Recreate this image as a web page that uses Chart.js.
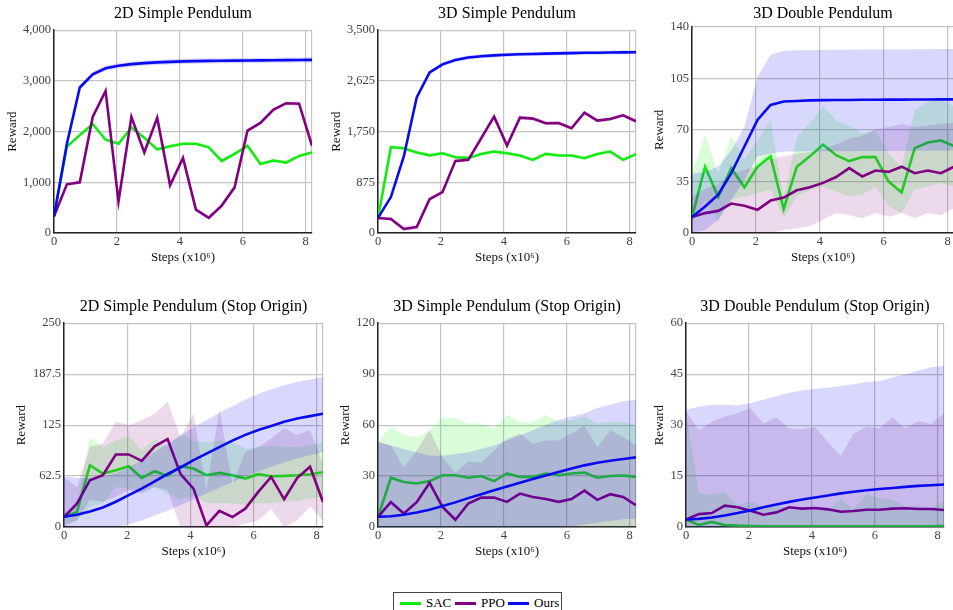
<!DOCTYPE html>
<html><head><meta charset="utf-8">
<script src="https://cdn.jsdelivr.net/npm/chart.js@4"></script>
<style>
html,body{margin:0;padding:0;background:#fff;overflow:hidden;width:953px;height:610px;position:relative;}
canvas.c{position:absolute;}
#legend{position:absolute;left:393px;top:592px;width:169px;height:22px;border:1px solid #444;box-sizing:border-box;background:#fff;font:13px 'Liberation Serif','Times New Roman',serif;color:#000;}
#legend .ln{position:absolute;top:9px;height:3px;width:21px;}
#legend .tx{position:absolute;top:2px;line-height:16px;}
</style>
</head><body>
<div id="legend">
  <span class="ln" style="left:6px;background:rgb(20,235,20)"></span><span class="tx" style="left:32px">SAC</span>
  <span class="ln" style="left:61px;background:#800080"></span><span class="tx" style="left:87px">PPO</span>
  <span class="ln" style="left:114px;background:#0a0af0"></span><span class="tx" style="left:140px">Ours</span>
</div>
<script>
// ---- shared x data ----
const steps = [0,0.41,0.82,1.23,1.64,2.05,2.46,2.87,3.28,3.69,4.1,4.51,4.92,5.33,5.74,6.15,6.56,6.97,7.38,7.79,8.2];
const xTickValues = [0,2,4,6,8];
const xMax = 8.2;
const seriesNames = ['SAC','PPO','Ours'];

// ---- 2D Simple Pendulum ----
const sacA = [330,1705,1930,2150,1840,1760,2080,1880,1650,1710,1760,1760,1690,1420,1560,1720,1360,1430,1390,1520,1590];
const sacALo = [300,1670,1895,2115,1805,1725,2045,1845,1615,1675,1725,1725,1655,1385,1525,1685,1325,1395,1355,1485,1555];
const sacAHi = [360,1740,1965,2185,1875,1795,2115,1915,1685,1745,1795,1795,1725,1455,1595,1755,1395,1465,1425,1555,1625];
const ppoA = [330,960,1000,2290,2800,620,2290,1590,2270,940,1480,460,300,540,900,2020,2170,2430,2560,2550,1720];
const ppoALo = [300,925,965,2250,2760,585,2250,1555,2230,905,1445,425,265,505,865,1985,2135,2395,2520,2510,1685];
const ppoAHi = [360,995,1035,2330,2840,655,2330,1625,2310,975,1515,495,335,575,935,2055,2205,2465,2600,2590,1755];
const oursA = [330,1760,2870,3130,3250,3300,3330,3350,3365,3375,3385,3390,3395,3398,3400,3402,3405,3407,3410,3412,3415];
const oursALo = [290,1710,2820,3080,3200,3250,3280,3300,3315,3325,3335,3340,3345,3348,3350,3352,3355,3357,3360,3362,3365];
const oursAHi = [370,1810,2920,3180,3300,3350,3380,3400,3415,3425,3435,3440,3445,3448,3450,3452,3455,3457,3460,3462,3465];
const yTicksA = [0,1000,2000,3000,4000];

// ---- 3D Simple Pendulum ----
const sacB = [260,1480,1463,1390,1340,1377,1308,1296,1365,1405,1377,1337,1262,1365,1337,1337,1291,1365,1405,1262,1360];
const sacBLo = [230,1450,1433,1360,1310,1347,1278,1266,1335,1375,1347,1307,1232,1335,1307,1307,1261,1335,1375,1232,1330];
const sacBHi = [290,1510,1493,1420,1370,1407,1338,1326,1395,1435,1407,1367,1292,1395,1367,1367,1321,1395,1435,1292,1390];
const ppoB = [260,241,69,103,585,706,1245,1262,1635,2008,1509,1991,1974,1893,1899,1807,2077,1939,1968,2031,1928];
const ppoBLo = [230,205,20,60,550,671,1210,1227,1600,1973,1474,1956,1939,1858,1864,1772,2042,1904,1933,1996,1893];
const ppoBHi = [290,277,118,146,620,741,1280,1297,1670,2043,1544,2026,2009,1928,1934,1842,2112,1974,2003,2066,1963];
const oursB = [260,620,1320,2340,2770,2910,2985,3030,3050,3065,3075,3085,3090,3095,3100,3105,3110,3112,3115,3118,3120];
const oursBLo = [230,585,1285,2305,2735,2875,2950,2995,3015,3030,3040,3050,3055,3060,3065,3070,3075,3077,3080,3083,3085];
const oursBHi = [290,655,1355,2375,2805,2945,3020,3065,3085,3100,3110,3120,3125,3130,3135,3140,3145,3147,3150,3153,3155];
const yTicksB = [0,875,1750,2625,3500];

// ---- 3D Double Pendulum ----
const sacC = [10.8,45,24.4,44,31,45,52,16.3,45,52,60,52.8,48.8,51.5,51.5,35,27.5,57.6,61.4,62.8,59];
const sacCLo = [9,22.6,8,22.6,24.8,27,29.3,10,24.8,29.3,31.6,28,24.8,26,31.6,18,13.5,29.3,31.6,33.8,31.6];
const sacCHi = [40.6,66.6,40.6,65.5,50,63,76.7,22.6,65.5,74.5,85.8,76.7,72.7,67.7,69.5,54,45,83.5,89,90.3,85.8];
const ppoC = [10.8,13.5,15,20,18.5,15.8,22,24,29,31,34,38,44,38.4,42.4,41.5,45,40.6,42.4,40.6,45];
const ppoCLo = [0,0,0,0,0,0,0,2,3,4.5,9,13.5,12,10,13.5,11,13.5,10,13.5,12,17];
const ppoCHi = [25,30,33,40,43,45,50,52,54,55,57,60,64,66,70,72,74,72,73,74,75];
const oursC = [10.8,18,26,40.6,58.7,76.7,86.9,89.2,89.6,90,90.2,90.3,90.3,90.4,90.4,90.5,90.5,90.6,90.6,90.7,90.7];
const oursCLo = [0,2,9,22.6,36,52,54,55.3,55.3,55.4,55.4,55.5,55.5,55.6,55.6,55.7,55.7,55.8,55.8,55.9,56];
const oursCHi = [40,41.8,45,56,72,106,121,123.5,124,124,124.2,124.3,124.4,124.5,124.5,124.6,124.6,124.7,124.7,124.8,124.8];
const yTicksC = [0,35,70,105,140];

// ---- 2D Simple Pendulum (Stop Origin) ----
const sacD = [12.3,18.4,75.8,65.6,69.7,74.6,60.2,68.4,62.7,74.6,71.7,63.5,66.4,63.5,59.4,64.8,62.3,62.7,63.5,64.8,67.2];
const sacDLo = [4,8,25,29,49,47,43,49,41,33,39,29,29,29,27,29,29,31,32,35,37];
const sacDHi = [15,25,110,98,106,112,94,108,98,115,106,104,106,104,96,98,100,98,98,100,104];
const ppoD = [12.3,28.7,57.4,63.5,89,89,81,99,107.8,64.8,47,2,19.7,12.3,22.5,43,61.5,34,60,73.8,30.7];
const ppoDLo = [0,8,33,31,37,45,41,49,45,0,0,0,0,0,4,8,22,0,8,25,8];
const ppoDHi = [61,49,98,102,129,125,131,139,154,110,139,45,144,53,92,98,109,121,113,119,78];
const oursD = [12.5,15,19,24,31,39,47,56,65,73,82,90,98,106,113,119,124,129,133,136,139];
const oursDLo = [0,0,0,0,0,3,8,14,20,27,34,41,48,55,62,68,74,79,84,88,92];
const oursDHi = [62,60,60,62,66,73,82,92,102,112,122,131,140,148,156,163,169,174,178,181,184];
const yTicksD = [0,62.5,125,187.5,250];

// ---- 3D Simple Pendulum (Stop Origin) ----
const sacE = [6,29,26.5,25.6,27,30.5,30.5,29,30,27,31.5,29.5,29.5,31.5,30.5,31.5,32,29,30,30.3,29.5];
const sacELo = [0,0,0,0,0,0,0,0,0,0,0,0,0,0,0,0,0,0,0,0,0];
const sacEHi = [50,59,54,53,57,64.5,64,61,61,58,66,61.5,61.5,66,62,63,65,61,62,62,60];
const ppoE = [6,14.6,7.9,14.6,26,11.8,4.3,13.8,17.3,17.3,14.8,19.7,17.7,16.5,14.8,16.5,21.4,16,19.3,17.7,12.8];
const ppoELo = [0,0,0,0,0,0,0,0,0,0,0,0,0,0,0,0,0,0,0,0,0];
const ppoEHi = [50,48,35,45,57,41,32,38.5,38,45,52,55,49,51,51,55,59.5,47,57,53,48];
const oursE = [6,6.3,7.2,8.5,10.2,12.3,14.5,17,19.3,21.6,23.8,26,28.2,30.3,32.4,34.5,36.3,37.8,39,40,41];
const oursELo = [0,0,0,0,0,0,0,0,0,0,0,0,0,0,0,0.5,1.5,2.5,3.5,4.5,5];
const oursEHi = [50,48,46,44,42,42,43,44,46,48,51,54,57,60,63,65,67,70,72,74,75];
const yTicksE = [0,30,60,90,120];

// ---- 3D Double Pendulum (Stop Origin) ----
const sacF = [2.2,0.6,1.5,0.6,0.4,0.3,0.2,0.2,0.2,0.2,0.2,0.2,0.2,0.2,0.2,0.2,0.2,0.2,0.2,0.2,0.3];
const sacFLo = [0,0,0,0,0,0,0,0,0,0,0,0,0,0,0,0,0,0,0,0,0];
const sacFHi = [34,10,9.5,10.3,6.5,7.5,6,6.5,5.5,5.5,5.5,5,8.3,5,9.8,8.5,8,6,6.2,5.5,7.5];
const ppoF = [2.2,3.8,4.1,6.3,5.8,4.8,3.6,4.3,5.8,5.4,5.6,5.2,4.5,4.7,5.1,5.1,5.4,5.5,5.3,5.3,5.0];
const ppoFLo = [0,0,0,0,0,0,0,0,0,0,0,0,0,0,0,0,0,0,0,0,0];
const ppoFHi = [34,28.5,31,32.5,33.5,35,30.5,32.3,29,28.8,29.5,25,21,27.5,29.5,29,32.3,29,31.2,30.3,33.5];
const oursF = [2.2,2.4,2.8,3.4,4.1,4.9,5.8,6.6,7.4,8.1,8.7,9.3,9.9,10.4,10.8,11.2,11.5,11.8,12.1,12.3,12.5];
const oursFLo = [0,0,0,0,0,0,0,0,0,0,0,0,0,0,0,0,0,0,0,0,0];
const oursFHi = [34.5,35.5,36,36,35.8,36.5,37.5,38.5,39.5,40.2,40.7,41,41.5,42,42.7,43,44,45,46,47,47.5];
const yTicksF = [0,15,30,45,60];

// ---- styling ----
Chart.defaults.font.family = "'Liberation Serif','Times New Roman',serif";
const lineColors = ['rgb(20,235,20)','#800080','#0a0af0'];
const fillColors = ['rgba(20,235,20,0.16)','rgba(128,0,128,0.15)','rgba(10,10,240,0.16)'];
const baseOrders = [50,30,10];

function pts(arr){ return arr.map((v,i)=>({x:steps[i], y:v})); }

function buildDatasets(series){
  const ds = [];
  series.forEach((s,k)=>{
    ds.push({label:seriesNames[k]+' hi', data:pts(s.hi), fill:'+1', backgroundColor:fillColors[k], borderWidth:0, pointRadius:0, order:baseOrders[k]+1});
    ds.push({label:seriesNames[k]+' lo', data:pts(s.lo), fill:false, borderWidth:0, pointRadius:0, order:baseOrders[k]+1});
    ds.push({label:seriesNames[k], data:pts(s.mean), fill:false, borderColor:lineColors[k], borderWidth:2.6, pointRadius:0,
             tension:0, order:baseOrders[k]});
  });
  return ds;
}

function makeChart(box, title, yTicks, series){
  const cv = document.createElement('canvas');
  cv.className = 'c';
  cv.width = box.w; cv.height = box.h;
  cv.style.left = box.x+'px'; cv.style.top = box.y+'px';
  cv.style.width = box.w+'px'; cv.style.height = box.h+'px';
  document.body.appendChild(cv);
  const yMax = yTicks[yTicks.length-1];
  new Chart(cv.getContext('2d'), {
    type:'line',
    data:{datasets: buildDatasets(series)},
    options:{
      responsive:false, animation:false, devicePixelRatio:1,
      layout:{padding:0},
      plugins:{
        legend:{display:false}, tooltip:{enabled:false},
        title:{display:true, fullSize:false, text:title, color:'#000', font:{size:16, weight:'normal'}, padding:{top:4, bottom:box.tb}}
      },
      scales:{
        x:{type:'linear', min:0, max:xMax,
           afterBuildTicks:s=>{ s.ticks = xTickValues.concat([xMax]).map(v=>({value:v})); },
           afterFit:s=>{ s.height = 32; },
           ticks:{color:'#444', font:{size:12.5}, padding:1, maxRotation:0, autoSkip:false,
                  callback:v=> (xTickValues.indexOf(v)>=0 ? String(v) : '')},
           grid:{color:'#c4c4c4', lineWidth:1.2, drawTicks:false},
           border:{color:'#222', width:1.5},
           title:{display:true, text:'Steps (x10⁶)', color:'#111', font:{size:13}, padding:0}},
        y:{min:0, max:yMax,
           afterBuildTicks:s=>{ s.ticks = yTicks.map(v=>({value:v})); },
           afterFit:s=>{ s.width = box.yw; },
           ticks:{color:'#444', font:{size:12.5}, padding:3,
                  callback:v=> Number(v).toLocaleString('en-US')},
           grid:{color:'#c4c4c4', lineWidth:1.2, drawTicks:false},
           border:{color:'#222', width:1.5},
           title:{display:true, text:'Reward', color:'#111', font:{size:13}, padding:0}}
      }
    }
  });
}

makeChart({x:5,y:0,w:308,h:265,yw:49,tb:7}, '2D Simple Pendulum', yTicksA, [
  {mean:sacA, lo:sacALo, hi:sacAHi},{mean:ppoA, lo:ppoALo, hi:ppoAHi},{mean:oursA, lo:oursALo, hi:oursAHi}]);
makeChart({x:329,y:0,w:308,h:265,yw:49,tb:7}, '3D Simple Pendulum', yTicksB, [
  {mean:sacB, lo:sacBLo, hi:sacBHi},{mean:ppoB, lo:ppoBLo, hi:ppoBHi},{mean:oursB, lo:oursBLo, hi:oursBHi}]);
makeChart({x:652,y:0,w:303,h:265,yw:40,tb:3.5}, '3D Double Pendulum', yTicksC, [
  {mean:sacC, lo:sacCLo, hi:sacCHi},{mean:ppoC, lo:ppoCLo, hi:ppoCHi},{mean:oursC, lo:oursCLo, hi:oursCHi}]);
makeChart({x:14,y:293,w:310,h:266,yw:50,tb:7}, '2D Simple Pendulum (Stop Origin)', yTicksD, [
  {mean:sacD, lo:sacDLo, hi:sacDHi},{mean:ppoD, lo:ppoDLo, hi:ppoDHi},{mean:oursD, lo:oursDLo, hi:oursDHi}]);
makeChart({x:338,y:293,w:299,h:266,yw:40,tb:7}, '3D Simple Pendulum (Stop Origin)', yTicksE, [
  {mean:sacE, lo:sacELo, hi:sacEHi},{mean:ppoE, lo:ppoELo, hi:ppoEHi},{mean:oursE, lo:oursELo, hi:oursEHi}]);
makeChart({x:652,y:293,w:293,h:266,yw:34,tb:7}, '3D Double Pendulum (Stop Origin)', yTicksF, [
  {mean:sacF, lo:sacFLo, hi:sacFHi},{mean:ppoF, lo:ppoFLo, hi:ppoFHi},{mean:oursF, lo:oursFLo, hi:oursFHi}]);
</script>
</body></html>
